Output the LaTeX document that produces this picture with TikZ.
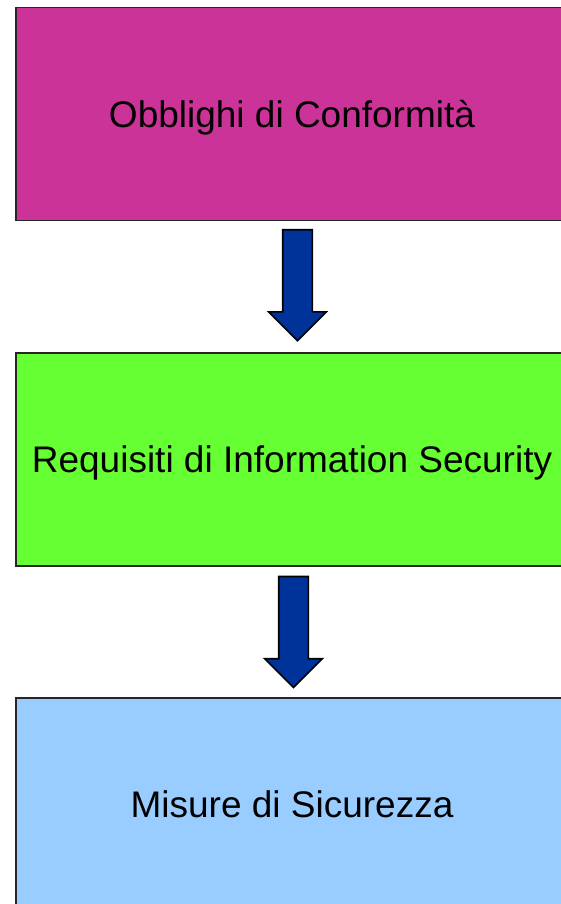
\documentclass[tikz,border=0pt]{standalone}
\usepackage{fontspec}
\setmainfont{Liberation Sans}
\usetikzlibrary{positioning, shapes.arrows, calc}
\definecolor{obblighicol}{HTML}{CC3399}
\definecolor{requisiticol}{HTML}{66FF33}
\definecolor{misurecol}{HTML}{99CCFF}
\definecolor{frecciacol}{HTML}{003399}

\begin{document}
\begin{tikzpicture}[%
		x=1pt, y=1pt,
		node distance=130.5pt,
		livello/.style={
			rectangle,
			minimum width=552pt,
			minimum height=213pt,
			line width=1.8pt,
			draw=black!85,
			inner sep=0pt,
			text height=26.5pt,
			text depth=0pt,
			align=center,
			font=\fontsize{37}{44}\selectfont
		},
		freccia/.style={
			single arrow,
			rotate=-90,
			anchor=tail,
			fill=frecciacol,
			draw=black,
			line width=1.6pt,
			inner xsep=0pt,
			inner ysep=14pt,
			minimum width=56pt,
			minimum height=111pt,
			single arrow head extend=14pt,
			single arrow tip angle=90
		}]

		\useasboundingbox (0,0) rectangle (561,-904);

		% LIVELLI
		\node (obblighi) [livello, fill=obblighicol] at (292,-114) {Obblighi di Conformità};
		\node (requisiti) [livello, fill=requisiticol, below=of obblighi] {Requisiti di Information Security};
		\node (misure) [livello, fill=misurecol, below=of requisiti] {Misure di Sicurezza};

		% FRECCE
		\node (freccia1) [freccia] at ($(obblighi.south)+(5.5,-7.5)$) {};
		\node (freccia2) [freccia] at ($(requisiti.south)+(1.5,-9)$) {};
\end{tikzpicture}
\end{document}
